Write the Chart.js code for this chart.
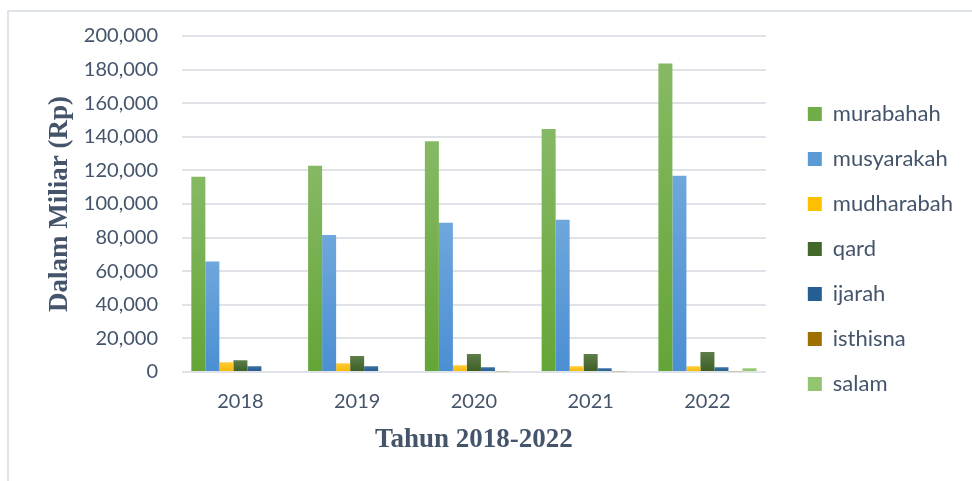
<!DOCTYPE html>
<html>
<head>
<meta charset="utf-8">
<script src="https://cdn.jsdelivr.net/npm/chart.js@4.4.1/dist/chart.umd.min.js"></script>
<style>
  html, body { margin: 0; padding: 0; background: #fff; }
  #wrap { position: relative; width: 972px; height: 481px; overflow: hidden; }
  #frame {
    position: absolute; left: 7px; top: 10px; width: 1000px; height: 500px;
    border-left: 2px solid #dfe3ea; border-top: 2px solid #dfe3ea;
  }
  canvas { position: absolute; left: 0; top: 0; }
</style>
</head>
<body>
<div id="wrap">
  <div id="frame"></div>
  <canvas id="pembiayaan" width="972" height="481"></canvas>
</div>
<script>
const years = ["2018", "2019", "2020", "2021", "2022"];
const seriesNames = ["murabahah", "musyarakah", "mudharabah", "qard", "ijarah", "isthisna", "salam"];

// nilai dalam miliar rupiah
const murabahah = [116200, 122800, 137300, 144600, 183700];
const musyarakah = [65700, 81600, 88900, 90600, 116800];
const mudharabah = [5800, 5200, 4000, 3400, 3400];
const qard = [7000, 9500, 10700, 10700, 11900];
const ijarah = [3400, 3400, 2800, 2200, 2800];
const isthisna = [0, 600, 500, 400, 400];
const salam = [0, 0, 0, 0, 2200];

const yTicks = [0, 20000, 40000, 60000, 80000, 100000, 120000, 140000, 160000, 180000, 200000];

// [atas, bawah] warna gradasi tiap seri
const shades = [
  ["#86b964", "#64a537"],
  ["#6ea7dc", "#4b8fd3"],
  ["#ffcb3a", "#f7b800"],
  ["#5e7d4a", "#3a5e22"],
  ["#3d70a0", "#1f5a90"],
  ["#ab8538", "#966800"],
  ["#9dcb7c", "#8cc266"],
];
const legendColors = ["#70ad47", "#5b9bd5", "#ffc000", "#43682b", "#255e91", "#9e7000", "#93c571"];

function barFill(i) {
  return function (ctx) {
    const chart = ctx.chart;
    const y = chart.scales.y;
    if (!chart.chartArea || !y || ctx.raw == null) return legendColors[i];
    const top = y.getPixelForValue(ctx.raw);
    const bottom = y.getPixelForValue(0);
    if (bottom - top < 1) return shades[i][1];
    const g = chart.ctx.createLinearGradient(0, top, 0, bottom);
    g.addColorStop(0, shades[i][0]);
    g.addColorStop(1, shades[i][1]);
    return g;
  };
}

const allData = [murabahah, musyarakah, mudharabah, qard, ijarah, isthisna, salam];
const textColor = "#44546a";

const canvas = document.querySelector("#pembiayaan");
const chart = new Chart(canvas, {
  type: "bar",
  data: {
    labels: years,
    datasets: seriesNames.map((name, i) => ({
      label: name,
      data: allData[i],
      backgroundColor: barFill(i),
      borderWidth: 0,
      categoryPercentage: 0.84,
      barPercentage: 1,
    })),
  },
  options: {
    responsive: false,
    animation: false,
    layout: {
      padding: { left: 44, top: 32, right: 9, bottom: 25 },
    },
    scales: {
      x: {
        grid: { display: false, drawTicks: false },
        border: { display: false },
        afterFit: (axis) => {
          axis.height = 84;
        },
        ticks: {
          padding: 18,
          color: textColor,
          font: { family: "Lato", size: 20 },
        },
        title: {
          display: true,
          text: "Tahun 2018-2022",
          color: textColor,
          padding: 0,
          font: { family: "Liberation Serif", size: 27, weight: "bold" },
        },
      },
      y: {
        min: 0,
        max: 200000,
        afterBuildTicks: (axis) => {
          axis.ticks = yTicks.map((v) => ({ value: v }));
        },
        afterFit: (axis) => {
          axis.width = 138;
        },
        grid: { color: "#dfe3e8", lineWidth: 2, drawTicks: false },
        border: { display: false },
        ticks: {
          padding: 24,
          color: textColor,
          font: { family: "Lato", size: 20 },
          callback: (v) => v.toLocaleString("en-US"),
        },
        title: {
          display: true,
          text: "Dalam Miliar (Rp)",
          color: textColor,
          padding: 0,
          font: { family: "Liberation Serif", size: 27, weight: "bold" },
        },
      },
      // sumbu tersembunyi, hanya jarak antara plot dan legenda
      gap: {
        type: "linear",
        position: "right",
        display: false,
        afterFit: (axis) => {
          axis.width = 19;
        },
      },
    },
    plugins: {
      tooltip: { enabled: false },
      legend: {
        position: "right",
        title: { display: true, text: "", padding: 0, font: { size: 10, lineHeight: 1 } },
        labels: {
          boxWidth: 14,
          boxHeight: 14,
          padding: 23,
          color: textColor,
          font: { family: "Lato", size: 22 },
          generateLabels: (c) =>
            c.data.datasets.map((ds, i) => ({
              text: ds.label,
              fillStyle: legendColors[i],
              strokeStyle: legendColors[i],
              lineWidth: 0,
              fontColor: textColor,
              hidden: false,
              datasetIndex: i,
            })),
        },
      },
    },
  },
});
</script>
</body>
</html>
